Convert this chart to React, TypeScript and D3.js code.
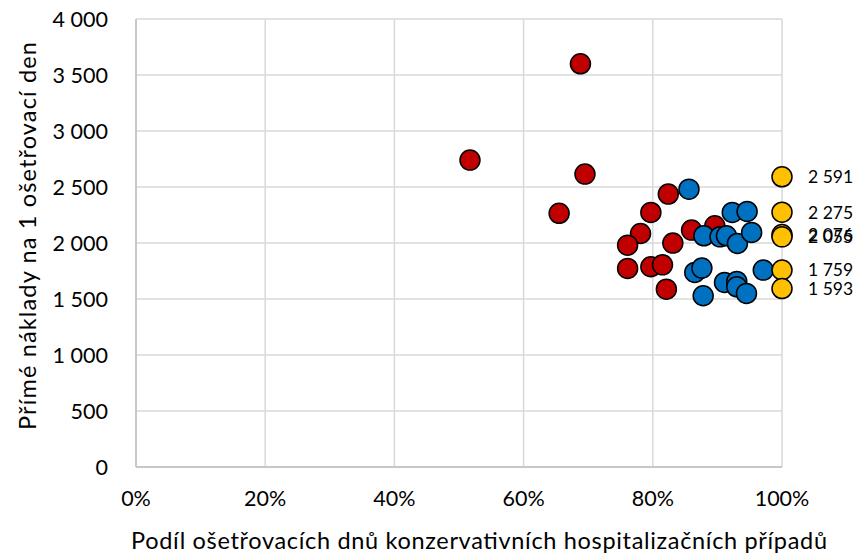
import React from "react";
import * as d3 from "d3";

const xTicks = [0, 20, 40, 60, 80, 100];
const yTicks = [0, 500, 1000, 1500, 2000, 2500, 3000, 3500, 4000];

const redX = [68.8, 51.7, 69.5, 65.5, 82.4, 79.7, 78.1, 76.1, 83.1, 86.0, 89.6, 76.1, 79.7, 81.5, 82.1];
const redY = [3600, 2740, 2615, 2265, 2437, 2273, 2085, 1981, 1999, 2115, 2154, 1773, 1788, 1805, 1588];

const blueX = [85.6, 92.3, 94.6, 87.9, 90.4, 91.4, 93.1, 95.3, 86.5, 87.6, 91.1, 93.0, 93.0, 94.5, 87.8, 97.1];
const blueY = [2481, 2273, 2282, 2064, 2055, 2064, 1996, 2094, 1737, 1776, 1648, 1657, 1609, 1550, 1529, 1758];

const yellowX = [100, 100, 100, 100, 100, 100];
const yellowY = [2591, 2275, 2076, 2055, 1759, 1593];

const xTitle = "Podíl ošetřovacích dnů konzervativních hospitalizačních případů";
const yTitle = "Přímé náklady na 1 ošetřovací den";

const FONT = "Lato, 'Open Sans', sans-serif";

const fmt = (v: number) => d3.format(",")(v).replace(/,/g, " ");

export default function App() {
  const W = 858, H = 555;
  const left = 136, right = 782, top = 19, bottom = 467;
  const x = d3.scaleLinear().domain([0, 100]).range([left, right]);
  const y = d3.scaleLinear().domain([0, 4000]).range([bottom, top]);
  const r = 10;

  const series = [
    { xs: redX, ys: redY, color: "#C00000", labels: false },
    { xs: blueX, ys: blueY, color: "#0070C0", labels: false },
    { xs: yellowX, ys: yellowY, color: "#FFC000", labels: true },
  ];

  return (
    <svg width={W} height={H} style={{ position: "absolute", left: 0, top: 0, background: "#fff" }} fontFamily={FONT}>
      {xTicks.map((t) => (
        <line key={"gx" + t} x1={x(t)} x2={x(t)} y1={top} y2={bottom} stroke="#D9D9D9" strokeWidth={1.5} />
      ))}
      {yTicks.map((t) => (
        <line key={"gy" + t} x1={left} x2={right} y1={y(t)} y2={y(t)} stroke="#D9D9D9" strokeWidth={1.5} />
      ))}
      <line x1={left} x2={left} y1={top} y2={bottom} stroke="#BFBFBF" strokeWidth={1.5} />
      <line x1={left} x2={right} y1={bottom} y2={bottom} stroke="#BFBFBF" strokeWidth={1.5} />
      {yTicks.map((t) => (
        <text key={"ty" + t} x={108} y={y(t)} textAnchor="end" dominantBaseline="central" fontSize={21.5} fill="#000">
          {fmt(t)}
        </text>
      ))}
      {xTicks.map((t) => (
        <text key={"tx" + t} x={x(t)} y={498} textAnchor="middle" dominantBaseline="central" fontSize={21.5} fill="#000">
          {t + "%"}
        </text>
      ))}
      <text x={479} y={540} textAnchor="middle" dominantBaseline="central" fontSize={23.5} textLength={696} fill="#000">
        {xTitle}
      </text>
      <text transform={`translate(27,236) rotate(-90)`} textAnchor="middle" dominantBaseline="central" fontSize={23.5} textLength={388} fill="#000">
        {yTitle}
      </text>
      {series.map((s, si) => (
        <g key={"s" + si}>
          {s.xs.map((xv, i) => (
            <circle key={i} cx={x(xv)} cy={y(s.ys[i])} r={r} fill={s.color} stroke="#000" strokeWidth={1.5} />
          ))}
          {s.labels &&
            s.xs.map((xv, i) => (
              <text key={"l" + i} x={x(xv) + 26} y={y(s.ys[i])} dominantBaseline="central" fontSize={17.5} fill="#000">
                {fmt(s.ys[i])}
              </text>
            ))}
        </g>
      ))}
    </svg>
  );
}
